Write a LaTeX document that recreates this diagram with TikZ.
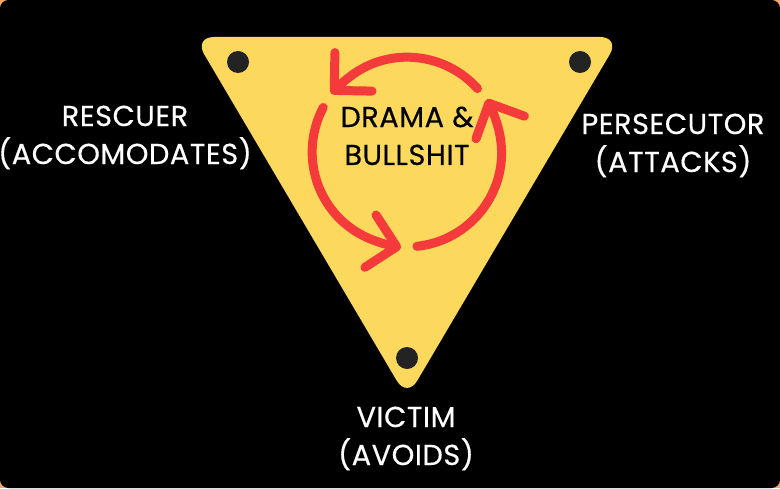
\documentclass[tikz,border=0pt]{standalone}
\usepackage{fontspec}
\setmainfont{Poppins}[LetterSpace=1.8, FakeBold=0.4]
\usetikzlibrary{arrows.meta}
\definecolor{triyellow}{HTML}{FCD95C}
\definecolor{loopred}{HTML}{F43A3A}
\definecolor{dotgrey}{HTML}{232323}
\definecolor{edgeorange}{HTML}{F0A860}

\begin{document}
\begin{tikzpicture}[x=0.025cm, y=0.025cm,
    role/.style={text=white, align=center, inner sep=0pt, anchor=base, font=\fontsize{20.5}{27}\selectfont},
    core/.style={text=black, align=center, inner sep=0pt, anchor=base, font=\fontsize{20.5}{27}\selectfont},
    pin/.style={circle, fill=dotgrey, inner sep=0pt, minimum size=0.55cm},
    loop/.style={draw=loopred, line width=6.4pt, line cap=round, shorten >=-10pt,
      -{Straight Barb[length=19pt, width=38pt, line width=6.4pt, round]}}
  ]
    % background
    \fill[edgeorange] (0,0) rectangle (780,488);
    \fill[black, rounded corners=6pt] (0,0) rectangle (780,488);
    \useasboundingbox (0,0) rectangle (780,488);

    % triangle
    \fill[triyellow, rounded corners=0.5cm] (194,451) -- (620,451) -- (407,90) -- cycle;
    \node[pin] (tl) at (238,426) {};
    \node[pin] (tr) at (580,426) {};
    \node[pin] (bt) at (407,130) {};

    % loop of arrows
    \coordinate (hub) at (407,336);
    \draw[loop] ([shift={(42:2.37cm)}]hub) arc[start angle=42, end angle=134, radius=2.37cm];
    \draw[loop] ([shift={(152:2.37cm)}]hub) arc[start angle=152, end angle=258, radius=2.37cm];
    \draw[loop] ([shift={(276:2.37cm)}]hub) arc[start angle=276, end angle=385, radius=2.37cm];

    % texts
    \node[core] (drama) at (407,323) {DRAMA \&\\BULLSHIT};
    \node[role] (rescuer) at (125,324) {RESCUER\\(ACCOMODATES)};
    \node[role] (persecutor) at (673,316) {PERSECUTOR\\(ATTACKS)};
    \node[role] (victim) at (406,23) {VICTIM\\(AVOIDS)};
\end{tikzpicture}
\end{document}
